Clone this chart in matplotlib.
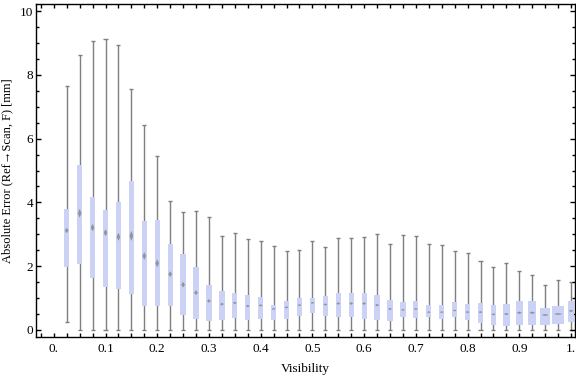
import numpy as np
import matplotlib
matplotlib.use("Agg")
import matplotlib.pyplot as plt
from matplotlib.ticker import MultipleLocator, FixedLocator, FixedFormatter

# visibility bins
vis = [0.025 * (i + 1) for i in range(40)]
# whisker top, box top (q3), median, box bottom (q1), whisker bottom
w_hi = [7.64, 8.61, 9.05, 9.11, 8.92, 7.55, 6.42, 5.44, 4.05, 3.69,
        3.74, 3.53, 2.94, 3.03, 2.84, 2.78, 2.62, 2.47, 2.50, 2.78,
        2.59, 2.87, 2.87, 2.91, 3.00, 2.69, 2.97, 2.94, 2.70, 2.65,
        2.47, 2.40, 2.17, 1.98, 2.09, 1.84, 1.72, 1.41, 1.56, 1.50]
q3 = [3.78, 5.17, 4.17, 3.75, 4.00, 4.67, 3.41, 3.44, 2.69, 2.37,
      1.97, 1.40, 1.21, 1.16, 1.09, 1.03, 0.78, 0.91, 1.00, 1.01,
      1.08, 1.15, 1.16, 1.16, 1.09, 0.94, 0.88, 0.91, 0.78, 0.78,
      0.88, 0.82, 0.85, 0.78, 0.82, 0.91, 0.91, 0.69, 0.75, 0.91]
med = [3.12, 3.66, 3.21, 3.05, 2.92, 2.95, 2.32, 2.09, 1.75, 1.42,
       1.17, 0.91, 0.81, 0.85, 0.75, 0.77, 0.66, 0.71, 0.78, 0.85,
       0.80, 0.83, 0.83, 0.83, 0.78, 0.66, 0.63, 0.66, 0.56, 0.56,
       0.61, 0.56, 0.56, 0.49, 0.50, 0.54, 0.54, 0.47, 0.50, 0.60]
q1 = [1.98, 2.07, 1.64, 1.36, 1.29, 1.13, 0.76, 0.76, 0.76, 0.48,
      0.35, 0.29, 0.32, 0.39, 0.32, 0.35, 0.32, 0.33, 0.45, 0.54,
      0.45, 0.42, 0.42, 0.35, 0.32, 0.29, 0.40, 0.38, 0.40, 0.35,
      0.40, 0.30, 0.21, 0.16, 0.14, 0.16, 0.16, 0.16, 0.19, 0.26]
w_lo = [0.24] + [0.0] * 39

# box widths (style)
box_w = [0.0101] * 34 + [0.013, 0.0135, 0.0149, 0.0193, 0.0226, 0.013]

plt.rcParams['font.family'] = ['Liberation Serif', 'DejaVu Serif']

fig = plt.figure(figsize=(5.76, 3.77), dpi=100)
ax = fig.add_axes([36/576, 1 - 337/377, 539/576, 333/377])

gray = '#7f7f7f'
boxc = '#cbd2f5'
cap = 0.0078
for x, hi, t, m, b, lo, w in zip(vis, w_hi, q3, med, q1, w_lo, box_w):
    ax.vlines(x, lo, hi, color=gray, lw=1.0, zorder=1)
    ax.hlines([lo, hi], x - cap/2, x + cap/2, color=gray, lw=1.0, zorder=1)
    ax.bar(x, t - b, bottom=b, width=w, color=boxc, lw=0, zorder=2)
    dh = 0.04 * (t - b)
    dw = 0.3 * w
    ax.fill([x - dw, x, x + dw, x], [m, m + dh, m, m - dh],
            color='#8a8a8a', alpha=0.85, lw=0.3, zorder=3)

ax.set_xlim(-0.0344, 1.0077)
ax.set_ylim(-0.22, 10.22)

xt = [0.1 * i for i in range(11)]
ax.xaxis.set_major_locator(FixedLocator(xt))
ax.xaxis.set_major_formatter(FixedFormatter(['0.', '0.1', '0.2', '0.3', '0.4', '0.5',
                                             '0.6', '0.7', '0.8', '0.9', '1.']))
ax.xaxis.set_minor_locator(MultipleLocator(0.025))
ax.yaxis.set_major_locator(MultipleLocator(2))
ax.yaxis.set_minor_locator(MultipleLocator(0.5))

ax.tick_params(which='both', direction='in', top=True, right=True,
               width=1.0, colors='black', labelsize=9.5)
ax.tick_params(axis='x', which='both', length=3.2, pad=4)
ax.tick_params(axis='y', which='major', length=3.5, pad=2)
ax.tick_params(axis='y', which='minor', length=2.0)
for s in ax.spines.values():
    s.set_linewidth(1.0)

ax.set_xlabel('Visibility', fontsize=9.5, labelpad=6)
ax.set_ylabel('Absolute Error (Ref\u2192Scan, F) [mm]', fontsize=9, labelpad=5)

fig.savefig('out.png', dpi=100)
